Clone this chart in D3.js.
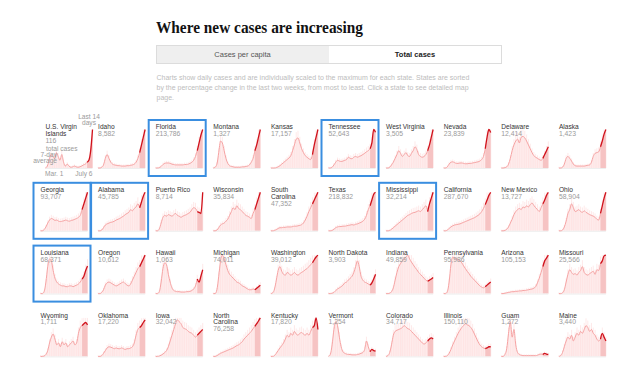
<!DOCTYPE html>
<html><head><meta charset="utf-8">
<script src="https://cdn.jsdelivr.net/npm/d3@7"></script>
<style>
body{margin:0;background:#fff;}
text{font-family:"Liberation Sans",Arial,sans-serif;}
</style></head>
<body><svg id="c" width="640" height="374"></svg>
<script>
const title = "Where new cases are increasing";
const toggleLabels = ["Cases per capita", "Total cases"];
const noteLines = [
 "Charts show daily cases and are individually scaled to the maximum for each state. States are sorted",
 "by the percentage change in the last two weeks, from most to least. Click a state to see detailed map",
 "page."
];
const states = ["U.S. Virgin|Islands","Idaho","Florida","Montana","Kansas","Tennessee","West Virginia","Nevada","Delaware","Alaska",
 "Georgia","Alabama","Puerto Rico","Wisconsin","South|Carolina","Texas","Mississippi","California","New Mexico","Ohio",
 "Louisiana","Oregon","Hawaii","Michigan","Washington","North Dakota","Indiana","Pennsylvania","Arizona","Missouri",
 "Wyoming","Oklahoma","Iowa","North|Carolina","Kentucky","Vermont","Colorado","Illinois","Guam","Maine"];
const totals = ["116","8,582","213,786","1,327","17,157","52,643","3,505","23,839","12,414","1,423",
 "93,707","45,785","8,714","35,834","47,352","218,832","32,214","287,670","13,727","58,904",
 "68,371","10,612","1,063","74,011","39,012","3,903","49,859","95,986","105,153","25,566",
 "1,711","17,220","32,042","76,258","17,820","1,254","34,717","150,110","1,272","3,440"];
const highlighted = ["Florida","Tennessee","Georgia","Alabama","Mississippi","Louisiana"];
// 7-day average, relative to each state's maximum (Mar. 1 to July 6, ~5-day steps)
const series = [
 [0,5,20,35,30,25,40,30,20,35,15,5,10,5,2,3,5,3,2,3,5,8,10,15,20,45,100],
 [0,0,2,8,25,35,25,15,10,8,7,6,6,5,5,5,6,6,7,8,10,15,25,40,60,80,100],
 [0,0,1,4,9,12,13,13,12,10,9,8,8,8,8,8,9,9,10,12,15,20,30,45,65,85,100],
 [0,2,10,40,70,65,45,25,12,6,4,3,2,2,2,2,3,3,4,5,8,15,25,45,60,80,100],
 [0,0,0,1,3,6,10,14,18,22,26,32,45,60,75,78,65,50,40,32,28,24,22,35,60,80,100],
 [0,0,2,8,15,20,18,17,18,20,22,28,25,24,28,30,28,30,32,35,38,42,45,50,65,100,93],
 [0,0,2,8,15,25,35,45,38,30,35,40,32,30,38,45,55,48,35,30,28,30,35,45,60,80,100],
 [0,0,3,10,15,16,14,12,12,13,13,12,11,11,12,12,13,14,15,16,18,22,30,50,80,100,92],
 [0,0,1,3,10,25,45,60,70,75,65,80,82,78,70,60,50,40,32,28,25,22,20,25,35,45,55],
 [0,0,2,10,25,30,25,18,10,6,5,5,5,5,5,6,7,8,15,30,38,40,42,55,70,88,100],
 [0,0,3,10,20,28,32,30,27,28,25,24,25,26,28,26,25,27,28,30,32,35,40,55,70,85,100],
 [0,0,2,8,15,18,20,22,23,25,28,30,32,35,38,42,45,48,55,52,58,62,70,60,75,90,100],
 [0,0,5,20,35,40,38,42,40,38,42,45,40,38,35,38,40,42,45,48,55,60,58,50,48,45,100],
 [0,0,2,8,15,18,20,25,30,40,50,60,55,65,58,55,50,45,40,38,35,32,45,55,70,85,100],
 [0,0,1,3,6,8,8,9,9,10,10,10,11,12,12,13,14,16,20,28,38,50,60,70,80,90,100],
 [0,0,1,4,8,10,11,11,12,12,13,14,15,16,15,17,18,20,22,25,30,40,55,65,80,95,100],
 [0,0,1,4,8,12,16,20,24,28,32,36,40,42,45,47,48,50,52,50,55,60,65,50,70,85,100],
 [0,0,2,6,10,13,15,16,17,18,20,22,24,26,28,30,32,34,37,40,44,50,58,68,80,92,100],
 [0,0,1,4,10,20,30,42,50,55,58,55,62,60,65,62,68,72,66,60,55,50,60,70,80,92,100],
 [0,0,2,10,25,45,55,70,60,50,52,55,50,48,52,48,45,42,40,38,35,30,28,45,65,85,100],
 [0,0,5,30,70,90,85,60,40,30,25,22,20,20,18,18,20,20,18,20,22,25,30,38,45,60,72],
 [0,0,3,10,22,28,30,28,25,22,20,22,25,28,30,26,22,20,25,35,45,55,65,70,80,90,100],
 [0,0,5,30,65,80,75,50,30,15,8,6,5,5,4,4,4,5,5,6,8,12,20,38,30,45,62],
 [0,0,10,45,85,100,90,75,60,50,45,40,35,30,28,25,20,18,15,12,10,10,12,10,14,18,22],
 [0,2,12,35,60,70,58,50,48,55,52,48,50,55,50,48,52,55,58,62,65,70,75,80,88,95,100],
 [0,0,1,3,8,12,15,18,22,28,30,35,40,45,55,70,85,70,45,35,30,28,25,22,28,38,50],
 [0,0,1,5,15,35,55,70,78,85,90,95,100,90,82,75,68,62,55,50,45,40,35,32,35,38,42],
 [0,0,5,30,75,95,92,90,88,85,80,72,65,58,52,45,40,35,30,25,20,17,15,18,22,26,30],
 [0,0,1,2,3,4,5,5,6,6,7,7,8,8,9,10,11,12,14,18,28,40,55,70,85,92,100],
 [0,0,2,10,30,50,62,55,50,52,48,55,60,70,55,50,48,52,55,58,50,62,60,78,85,98,100],
 [0,0,1,5,15,35,50,58,45,30,35,25,38,30,35,25,30,35,40,30,35,60,75,80,85,88,82],
 [0,0,2,8,15,22,25,24,22,20,22,20,20,22,20,18,20,20,22,25,35,55,70,75,80,88,95],
 [0,0,1,3,6,10,15,25,40,55,70,85,95,90,85,75,72,70,65,62,60,55,50,55,60,65,70],
 [0,0,2,5,8,10,12,14,16,18,20,22,25,28,30,34,38,45,50,55,60,65,72,78,85,92,100],
 [0,0,2,8,15,22,28,35,45,55,50,60,55,65,58,55,60,62,58,55,60,55,65,75,80,100,70],
 [0,5,30,70,90,80,50,25,12,8,6,5,5,4,4,4,5,6,8,10,18,40,25,12,18,15,14],
 [0,2,10,30,55,65,68,70,72,75,80,76,72,70,65,60,55,50,45,40,35,32,35,40,45,48,45],
 [0,0,2,8,18,30,40,50,60,68,75,80,85,82,80,75,68,58,48,38,30,25,22,20,22,25,25],
 [0,0,5,20,60,90,50,70,30,10,5,3,2,2,2,2,2,2,2,2,3,5,6,5,8,6,5],
 [0,2,10,25,40,50,45,55,40,50,60,55,65,60,70,80,75,65,70,60,55,45,40,45,60,50,40]
];
const recentStart = 23; // index where the last 14 days begin

const svg = d3.select("#c");
svg.append("text").attr("x",156).attr("y",33).text(title)
  .style("font-family","'Liberation Serif','Times New Roman',serif").style("font-weight","bold")
  .style("font-size","16.5px").attr("textLength",207).attr("lengthAdjust","spacingAndGlyphs").attr("fill","#121212");

// toggle
const tg = svg.append("g");
tg.append("rect").attr("x",156.5).attr("y",45.5).attr("width",172.5).attr("height",18).attr("fill","#efefef");
tg.append("rect").attr("x",156.5).attr("y",45.5).attr("width",345).attr("height",18).attr("fill","none").attr("stroke","#dcdcdc");
tg.append("text").attr("x",242.5).attr("y",57.3).attr("text-anchor","middle").text(toggleLabels[0])
  .style("font-size","7.5px").attr("fill","#555");
tg.append("text").attr("x",415).attr("y",57.3).attr("text-anchor","middle").text(toggleLabels[1])
  .style("font-size","7.5px").style("font-weight","bold").attr("fill","#222");

noteLines.forEach((t,i)=>{
  svg.append("text").attr("x",156.5).attr("y",80+i*10).text(t).style("font-size","7px").attr("fill","#bdbdbd");
});

const colW = 57.6, rowH = 62.8, gx0 = 34.5, gy0 = 119.5;
const cw = 47, ch = 38.5;
const x = d3.scaleLinear().domain([0, 26]).range([0, cw]);
const y = d3.scaleLinear().domain([0, 100]).range([ch, 0]);

states.forEach((name,k)=>{
  const c = k%10, r = Math.floor(k/10);
  const x0 = gx0 + c*colW + (k===0 ? 5 : 0), y0 = gy0 + r*rowH;
  const g = svg.append("g").attr("transform",`translate(${x0},${y0})`);
  const cg = g.append("g").attr("transform",`translate(6,10)`);
  const vals = series[k];
  const early = vals.map((v,i)=>[i,v]).filter(d=>d[0]<=recentStart);
  const late = vals.map((v,i)=>[i,v]).filter(d=>d[0]>=recentStart);
  const ln = d3.line().x(d=>x(d[0])).y(d=>y(d[1])).curve(d3.curveMonotoneX);
  const ar = d3.area().x(d=>x(d[0])).y0(ch).y1(d=>y(d[1])).curve(d3.curveMonotoneX);
  cg.append("path").attr("d",ar(early)).attr("fill","#feeeee");
  // daily bars (faint)
  cg.selectAll("line.bar").data(vals).enter().append("line")
    .attr("x1",(d,i)=>x(i)).attr("x2",(d,i)=>x(i)).attr("y1",ch).attr("y2",d=>y(Math.min(100,d*1.2+3)))
    .attr("stroke","#fde0e0").attr("stroke-width",0.7);
  cg.append("path").attr("d",ar(late)).attr("fill","#f6c3c3");
  cg.append("line").attr("x1",0).attr("x2",cw).attr("y1",ch+0.5).attr("y2",ch+0.5).attr("stroke","#eeeeee");
  cg.append("path").attr("d",ln(early)).attr("fill","none").attr("stroke","#f6a3a3").attr("stroke-width",1);
  cg.append("path").attr("d",ln(late)).attr("fill","none").attr("stroke","#d0111b").attr("stroke-width",1.3);

  const parts = name.split("|");
  parts.forEach((p,i)=>{
    g.append("text").attr("x",6).attr("y",9.8+i*6.6).text(p).style("font-size","6.6px").attr("fill","#333");
  });
  g.append("text").attr("x",6).attr("y",9.8+parts.length*6.8).text(totals[k]).style("font-size","6.8px").attr("fill","#9a9a9a");
  if (highlighted.includes(name)) {
    g.append("rect").attr("x",-1).attr("y",0.5).attr("width",57).attr("height",56)
      .attr("fill","none").attr("stroke","#3a8ee0").attr("stroke-width",2);
  }
});

// annotations for the first chart
const ann = svg.append("g").style("font-size","6.6px").attr("fill","#9a9a9a");
ann.append("text").attr("x",46).attr("y",150.5).text("total cases");
ann.append("text").attr("x",57).attr("y",156.5).attr("text-anchor","end").text("7-day");
ann.append("text").attr("x",57).attr("y",162.5).attr("text-anchor","end").text("average");
ann.append("text").attr("x",89).attr("y",118.5).attr("text-anchor","middle").text("Last 14");
ann.append("text").attr("x",89).attr("y",124.5).attr("text-anchor","middle").text("days");
ann.append("text").attr("x",45).attr("y",176).text("Mar. 1");
ann.append("text").attr("x",92.5).attr("y",176).attr("text-anchor","end").text("July 6");
</script></body></html>
